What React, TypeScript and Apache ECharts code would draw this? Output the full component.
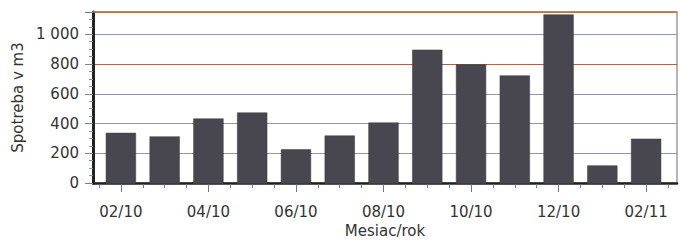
import React, { useEffect, useRef } from "react";
import * as echarts from "echarts";

const months = ["02/10", "03/10", "04/10", "05/10", "06/10", "07/10", "08/10", "09/10", "10/10", "11/10", "12/10", "01/11", "02/11"];
const consumption = [342, 318, 438, 478, 232, 324, 411, 898, 800, 726, 1134, 124, 303];
const yMax = 1150;
const yInterval = 200;

const FONT = "DejaVu Sans";

export default function App() {
  const ref = useRef<HTMLDivElement>(null);
  useEffect(() => {
    document.body.style.margin = "0";
    const chart = echarts.init(ref.current!, null, { renderer: "svg" });
    const gridA = { left: 93, right: 3, top: 12, bottom: 59 };
    const gridB = { left: 99, right: 12, top: 12, bottom: 59 };
    const tickColor = "#6d7890";
    chart.setOption({
      animation: false,
      backgroundColor: "#ffffff",
      grid: [
        { ...gridA, show: true, borderColor: "#6a6a6a", borderWidth: 1, backgroundColor: "transparent" },
        { ...gridB, show: false },
      ],
      xAxis: [
        {
          gridIndex: 0,
          type: "value",
          position: "bottom",
          min: 0,
          max: 1,
          name: "Mesiac/rok",
          nameLocation: "middle",
          nameGap: 40,
          nameTextStyle: { fontFamily: FONT, fontSize: 15, color: "#333" },
          axisLine: { show: true, onZero: false, lineStyle: { color: "#222", width: 2.5 } },
          axisTick: { show: false },
          axisLabel: { show: false },
          splitLine: { show: false },
        },
        {
          gridIndex: 0,
          type: "value",
          position: "top",
          min: 0,
          max: 1,
          axisLine: { show: true, onZero: false, lineStyle: { color: "#b47a48", width: 1.5 } },
          axisTick: { show: false },
          axisLabel: { show: false },
          splitLine: { show: false },
        },
        {
          gridIndex: 1,
          type: "category",
          position: "bottom",
          data: months,
          boundaryGap: true,
          axisLine: { show: false, onZero: false },
          axisTick: { show: true, interval: 0, length: 4, lineStyle: { color: tickColor } },
          axisLabel: { show: false },
        },
        {
          gridIndex: 1,
          type: "category",
          position: "bottom",
          data: months,
          boundaryGap: true,
          axisLine: { show: false, onZero: false },
          axisTick: { show: true, interval: 0, alignWithLabel: true, length: 4, lineStyle: { color: tickColor } },
          axisLabel: { show: false },
        },
        {
          gridIndex: 1,
          type: "category",
          position: "bottom",
          data: months,
          boundaryGap: true,
          axisLine: { show: false, onZero: false },
          axisTick: { show: true, interval: 1, alignWithLabel: true, length: 8, lineStyle: { color: tickColor } },
          axisLabel: { show: true, interval: 1, margin: 20, fontFamily: FONT, fontSize: 15, color: "#333" },
        },
      ],
      yAxis: [
        {
          gridIndex: 0,
          type: "value",
          min: 0,
          max: yMax,
          interval: yInterval,
          name: "Spotreba v m3",
          nameLocation: "middle",
          nameGap: 66,
          nameTextStyle: { fontFamily: FONT, fontSize: 15, color: "#333" },
          axisLine: { show: true, lineStyle: { color: "#222", width: 3 } },
          axisTick: { show: true, length: 8, lineStyle: { color: "#7a8090" } },
          minorTick: { show: true, splitNumber: 4, length: 4, lineStyle: { color: "#8a90a0" } },
          axisLabel: {
            showMaxLabel: false,
            margin: 14,
            fontFamily: FONT,
            fontSize: 15,
            color: "#333",
            formatter: (v: number) => (v % yInterval === 0 ? (v >= 1000 ? `${Math.floor(v / 1000)} ${String(v % 1000).padStart(3, "0")}` : String(v)) : ""),
          },
          splitLine: {
            show: true,
            lineStyle: {
              color: ["#999999", "#8f98ab", "#8f98ab", "#8f98ab", "#9c6a52", "#8f98ab", "#b47a48"],
              width: 1,
            },
          },
        },
        {
          gridIndex: 1,
          type: "value",
          min: 0,
          max: yMax,
          interval: yInterval,
          show: false,
          splitLine: { show: false },
        },
      ],
      series: [
        {
          type: "bar",
          xAxisIndex: 4,
          yAxisIndex: 1,
          data: consumption,
          barCategoryGap: "31%",
          itemStyle: { color: "#48474f", borderColor: "#3a3a40", borderWidth: 0.5 },
        },
      ],
    });
    return () => chart.dispose();
  }, []);
  return <div ref={ref} style={{ width: 680, height: 243 }} />;
}
